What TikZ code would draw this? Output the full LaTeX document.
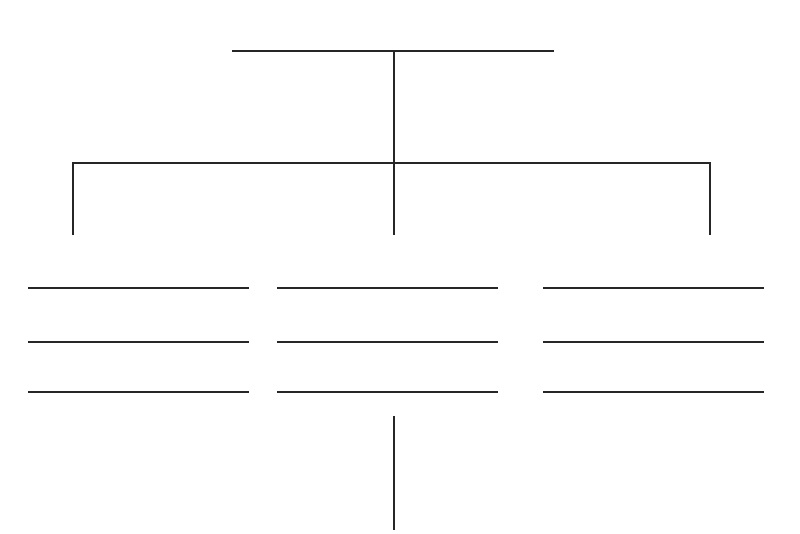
\documentclass[tikz,border=0pt]{standalone}
\begin{document}
\begin{tikzpicture}[x=1pt,y=-1pt,
  rule/.style={draw=black!85,line width=1.3pt},
  link/.style={draw=black!85,line width=1.1pt}]
\useasboundingbox[fill=white] (0,0) rectangle (800,533);
% top rule
\coordinate (tl) at (232,51);
\coordinate (tr) at (554,51);
\coordinate (tm) at (394,51);
\draw[rule] (tl) -- (tr);
% branch bar
\coordinate (bl) at (73,163);
\coordinate (bm) at (394,163);
\coordinate (br) at (710,163);
\coordinate (dl) at (73,235);
\coordinate (dm) at (394,235);
\coordinate (dr) at (710,235);
\draw[link] (tm) -- (dm);
\draw[link] (dl) -- (bl) -- (br) -- (dr);
% columns of rules
\foreach \xa/\xb/\n in {28/249/a,277/498/b,543/764/c}{
  \foreach \y/\m in {288/1,342/2,392/3}{
    \coordinate (\n\m l) at (\xa,\y);
    \coordinate (\n\m r) at (\xb,\y);
    \draw[rule] (\n\m l) -- (\n\m r);
  }
}
% bottom stem
\coordinate (s1) at (394,416);
\coordinate (s2) at (394,530);
\draw[link] (s1) -- (s2);
\end{tikzpicture}
\end{document}
